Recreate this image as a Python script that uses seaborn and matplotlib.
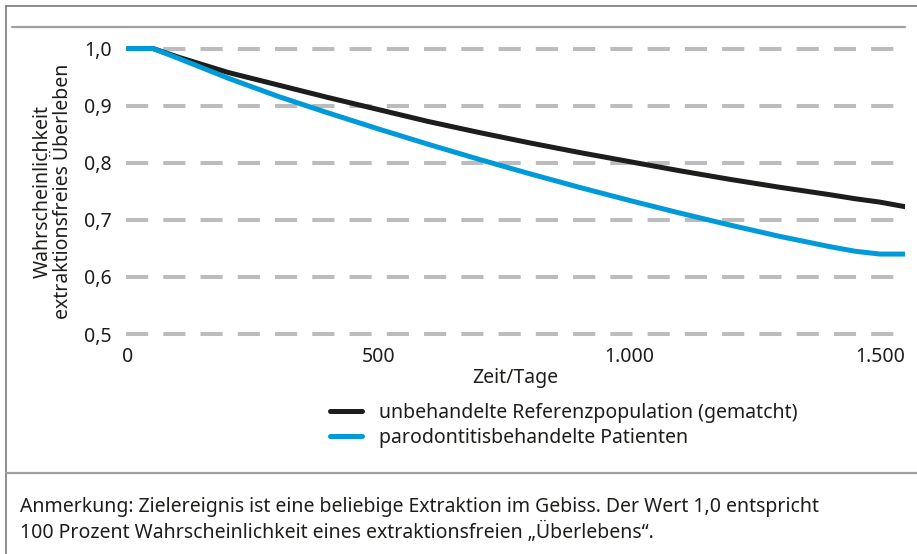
import matplotlib
matplotlib.use("Agg")
import matplotlib.pyplot as plt
from matplotlib.lines import Line2D
import seaborn as sns
import pandas as pd

days = [0, 50, 100, 200, 300, 400, 500, 600, 700, 800, 900, 1000, 1100,
        1200, 1300, 1400, 1450, 1500, 1550]
referenz = [1.0, 1.0, 0.985, 0.958, 0.936, 0.914, 0.893, 0.872, 0.853, 0.835,
            0.818, 0.802, 0.786, 0.771, 0.757, 0.744, 0.737, 0.731, 0.723]
paro = [1.0, 1.0, 0.983, 0.948, 0.916, 0.887, 0.859, 0.832, 0.806, 0.781,
        0.757, 0.734, 0.712, 0.691, 0.671, 0.653, 0.645, 0.640, 0.640]
series_names = ["unbehandelte Referenzpopulation (gematcht)",
                "parodontitisbehandelte Patienten"]
colors = ["#1d1d1b", "#009ad8"]
y_ticks = [0.5, 0.6, 0.7, 0.8, 0.9, 1.0]
y_labels = ["0,5", "0,6", "0,7", "0,8", "0,9", "1,0"]
x_ticks = [0, 500, 1000, 1500]
x_labels = ["0", "500", "1.000", "1.500"]
note = ("Anmerkung: Zielereignis ist eine beliebige Extraktion im Gebiss. Der Wert 1,0 entspricht\n"
        "100 Prozent Wahrscheinlichkeit eines extraktionsfreien \u201eÜberlebens\u201c.")

df = pd.concat([
    pd.DataFrame({"Tage": days, "Wert": referenz, "Gruppe": series_names[0]}),
    pd.DataFrame({"Tage": days, "Wert": paro, "Gruppe": series_names[1]}),
])

sns.set_theme(style="white")
plt.rcParams["font.family"] = ["Noto Sans", "DejaVu Sans"]
txt_color = "#1d1d1b"

fig = plt.figure(figsize=(9.17, 5.54), dpi=100)
ax = fig.add_axes([0.1369, 0.3765, 0.850, 0.5565])

ax.grid(axis="y", linestyle=(0, (5.5, 3.75)), linewidth=2.9, color="#bcbcbe")
ax.grid(axis="x", visible=False)
ax.set_axisbelow(True)

sns.lineplot(data=df, x="Tage", y="Wert", hue="Gruppe", palette=colors,
             linewidth=3.6, ax=ax, legend=False)
for ln in ax.get_lines():
    ln.set_solid_joinstyle("round")

ax.set_xlim(-5, 1550)
ax.set_ylim(0.48, 1.02)
ax.set_yticks(y_ticks)
ax.set_yticklabels(y_labels)
ax.set_xticks(x_ticks)
ax.set_xticklabels(x_labels)
ax.tick_params(axis="both", length=0, labelsize=14, colors=txt_color)
ax.tick_params(axis="y", pad=10)
ax.tick_params(axis="x", pad=1)
for s in ax.spines.values():
    s.set_visible(False)

ax.set_xlabel("Zeit/Tage", fontsize=14, color=txt_color, labelpad=1)
ax.set_ylabel("Wahrscheinlichkeit\nextraktionsfreies Überleben", fontsize=14,
              color=txt_color, labelpad=8, linespacing=1.0)

handles = [Line2D([0], [0], color=c, lw=3.6) for c in colors]
fig.legend(handles, series_names, loc="upper left",
           bbox_to_anchor=(322 / 917, 1 - 395 / 554), frameon=False,
           fontsize=14, handlelength=1.65, handletextpad=0.9,
           labelspacing=0.25, borderaxespad=0, labelcolor=txt_color)

fig.text(20 / 917, 1 - 520 / 554, note, fontsize=14, color=txt_color,
         va="center", ha="left", linespacing=1.3)

# frame lines
fig.add_artist(Line2D([6 / 917, 6 / 917], [0, 1 - 6 / 554], color="#7a7a7a", lw=1.2))
fig.add_artist(Line2D([6 / 917, 1], [1 - 6 / 554, 1 - 6 / 554], color="#7a7a7a", lw=1.2))
fig.add_artist(Line2D([12 / 917, 905 / 917], [1 - 27 / 554, 1 - 27 / 554], color="#a0a0a0", lw=1.6))
fig.add_artist(Line2D([6 / 917, 1], [1 - 473 / 554, 1 - 473 / 554], color="#a0a0a0", lw=1.6))

fig.savefig("out.png", dpi=100)
